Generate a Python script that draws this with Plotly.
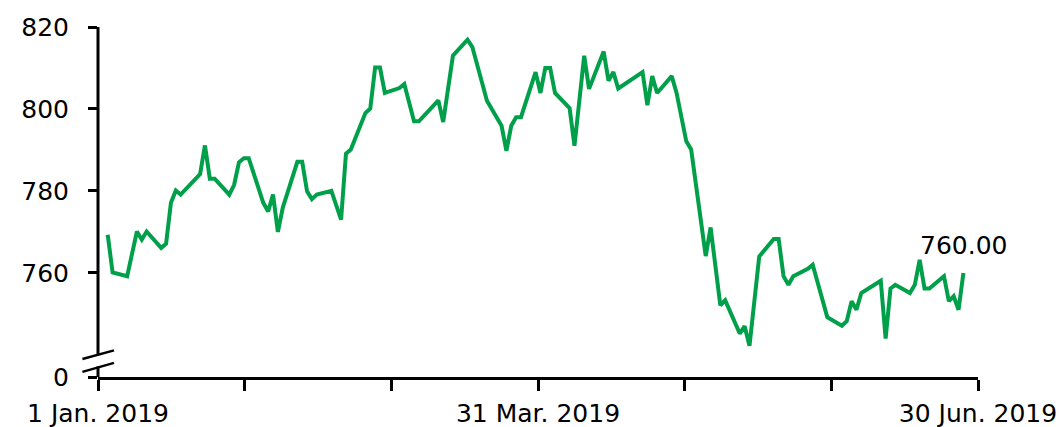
import pandas as pd
import plotly.graph_objects as go

GREEN = "#00A04A"
FONT = "DejaVu Sans"

dates = [
    "2019-01-03", "2019-01-04", "2019-01-07", "2019-01-09", "2019-01-10", "2019-01-11",
    "2019-01-14", "2019-01-15", "2019-01-16", "2019-01-17", "2019-01-18", "2019-01-22",
    "2019-01-23", "2019-01-24", "2019-01-25", "2019-01-28", "2019-01-29", "2019-01-30",
    "2019-01-31", "2019-02-01", "2019-02-04", "2019-02-05", "2019-02-06", "2019-02-07",
    "2019-02-08", "2019-02-11", "2019-02-12", "2019-02-13", "2019-02-14", "2019-02-15",
    "2019-02-18", "2019-02-20", "2019-02-21", "2019-02-22", "2019-02-25", "2019-02-26",
    "2019-02-27", "2019-02-28", "2019-03-01", "2019-03-04", "2019-03-05", "2019-03-07",
    "2019-03-08", "2019-03-12", "2019-03-13", "2019-03-15", "2019-03-18", "2019-03-19",
    "2019-03-22", "2019-03-25", "2019-03-26", "2019-03-27", "2019-03-28", "2019-03-29",
    "2019-04-01", "2019-04-02", "2019-04-03", "2019-04-04", "2019-04-05", "2019-04-08",
    "2019-04-09", "2019-04-11", "2019-04-12", "2019-04-15", "2019-04-16", "2019-04-17",
    "2019-04-18", "2019-04-23", "2019-04-24", "2019-04-25", "2019-04-26", "2019-04-29",
    "2019-04-30", "2019-05-02", "2019-05-03", "2019-05-06", "2019-05-07", "2019-05-09",
    "2019-05-10", "2019-05-13", "2019-05-14", "2019-05-15", "2019-05-17", "2019-05-20",
    "2019-05-21", "2019-05-22", "2019-05-23", "2019-05-24", "2019-05-27", "2019-05-28",
    "2019-05-31", "2019-06-03", "2019-06-04", "2019-06-05", "2019-06-06", "2019-06-07",
    "2019-06-11", "2019-06-12", "2019-06-13", "2019-06-14", "2019-06-17", "2019-06-18",
    "2019-06-19", "2019-06-20", "2019-06-21", "2019-06-24", "2019-06-25", "2019-06-26",
    "2019-06-27", "2019-06-28",
]
prices = [
    769.3, 760.1, 759.2, 770.1, 768.1, 770.1,
    766.1, 767.1, 777.1, 780.1, 779.1, 784.1,
    791.1, 783.0, 783.0, 779.1, 781.5, 787.0,
    788.0, 788.0, 777.1, 775.0, 779.1, 770.0,
    775.9, 787.1, 787.1, 779.9, 778.0, 779.1,
    780.0, 773.0, 789.1, 790.1, 799.0, 800.1,
    810.1, 810.1, 803.9, 805.1, 806.1, 797.0,
    797.0, 802.1, 796.8, 813.0, 816.9, 815.1,
    802.0, 795.9, 789.8, 795.9, 798.0, 798.0,
    809.0, 803.9, 810.0, 810.0, 803.9, 800.2,
    791.0, 813.0, 804.9, 814.0, 806.9, 809.0,
    805.0, 809.0, 800.9, 808.0, 803.9, 808.0,
    803.9, 792.1, 790.1, 764.1, 771.1, 752.1,
    753.3, 745.2, 747.0, 742.2, 764.0, 768.3,
    768.3, 759.2, 757.1, 759.2, 761.0, 762.0,
    749.2, 747.1, 748.2, 753.1, 751.0, 755.1,
    758.1, 744.0, 756.2, 757.1, 755.1, 757.1,
    763.2, 756.2, 756.2, 759.2, 753.1, 754.3,
    751.0, 760.0,
]

x_start, x_end = "2019-01-01", "2019-07-01"
x_tick_text = ["1 Jan. 2019", "", "", "31 Mar. 2019", "", "", "30 Jun. 2019"]
y_ticks = [760, 780, 800, 820]
y_floor = 734.6  # shown as 0 below the axis break
break_top, break_bottom = 740.2, 737.2

x_ticks = pd.date_range(x_start, x_end, periods=len(x_tick_text))

fig = go.Figure(
    go.Scatter(
        x=dates,
        y=prices,
        mode="lines",
        line=dict(color=GREEN, width=4),
        hoverinfo="skip",
    )
)

fig.add_annotation(
    x=dates[-1], y=prices[-1], text=f"{prices[-1]:.2f}",
    showarrow=False, yshift=27, font=dict(size=25, color="black", family=FONT),
)

# y axis line drawn by hand so it can be broken near zero
axis_style = dict(color="black", width=3)
fig.add_shape(type="line", xref="paper", yref="y", x0=0, x1=0, y0=820, y1=break_top, line=axis_style)
fig.add_shape(type="line", xref="paper", yref="y", x0=0, x1=0, y0=break_bottom, y1=y_floor, line=axis_style)
for lo, hi in [(739.0, 741.1), (735.85, 738.05)]:
    fig.add_shape(type="line", xref="paper", yref="y", x0=-0.0177, x1=0.0182, y0=lo, y1=hi,
                  line=dict(color="black", width=2.5))

# page body adds 8px around the figure, so size it to fill the rest of the window
fig.update_layout(
    width=1056, height=419,
    margin=dict(l=90, r=86, t=19, b=50),
    plot_bgcolor="white", paper_bgcolor="white",
    font=dict(family=FONT, size=25, color="black"),
    showlegend=False,
    xaxis=dict(
        type="date", range=[x_start, x_end], automargin=False,
        tickmode="array", tickvals=list(x_ticks), ticktext=x_tick_text,
        showline=True, linecolor="black", linewidth=3,
        ticks="outside", ticklen=11, tickwidth=3, tickcolor="black",
        ticklabelstandoff=1, showgrid=False, zeroline=False,
    ),
    yaxis=dict(
        range=[y_floor, 820], automargin=False,
        tickmode="array", tickvals=[y_floor] + y_ticks,
        ticktext=["0"] + [str(v) for v in y_ticks],
        showline=False, ticks="outside", ticklen=9, tickwidth=3, tickcolor="black",
        ticklabelstandoff=14, showgrid=False, zeroline=False,
    ),
)

fig.write_html("out.html")
